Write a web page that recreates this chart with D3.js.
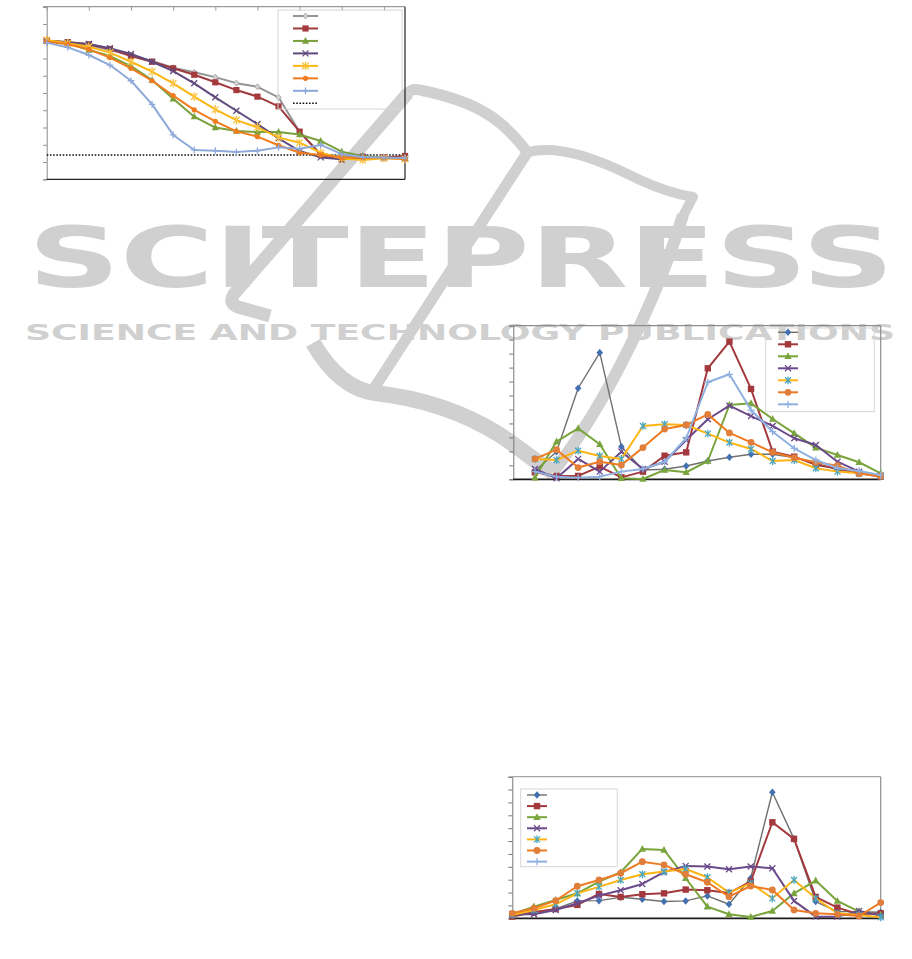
<!DOCTYPE html>
<html><head><meta charset="utf-8">
<script src="https://cdn.jsdelivr.net/npm/d3@7"></script>
<style>html,body{margin:0;padding:0;background:#fff}svg{display:block}</style>
</head><body>
<script>
// ---------------- DATA ----------------
// Chart 1 (top-left): 18 categories, index 0..17
const c1Gray   = [8.03,7.92,7.78,7.49,7.20,6.85,6.47,6.20,5.92,5.57,5.36,4.75,2.74,1.47,1.31,1.31,1.27,1.27];
const c1Red    = [8.03,7.95,7.82,7.55,7.14,6.81,6.43,6.06,5.62,5.17,4.79,4.23,2.76,1.41,1.16,1.31,1.27,1.35];
const c1Green  = [7.99,7.88,7.49,7.14,6.56,5.75,4.67,3.63,3.00,2.80,2.74,2.74,2.60,2.22,1.60,1.35,1.27,1.21];
const c1Purple = [8.03,7.93,7.84,7.59,7.26,6.81,6.27,5.56,4.75,3.97,3.20,2.37,1.64,1.27,1.16,1.27,1.22,1.22];
const c1Yellow = [8.07,7.88,7.68,7.34,6.81,6.24,5.56,4.79,4.05,3.43,3.01,2.43,2.12,1.54,1.21,1.12,1.22,1.18];
const c1Orange = [7.97,7.82,7.53,7.05,6.43,5.71,4.85,4.02,3.36,2.78,2.47,1.97,1.54,1.41,1.27,1.27,1.27,1.18];
const c1Blue   = [7.92,7.64,7.20,6.62,5.71,4.34,2.57,1.70,1.66,1.58,1.66,1.85,1.77,1.99,1.46,1.29,1.27,1.24];
const c1Threshold = 1.41;
const c1YTicks = d3.range(0, 11);
const c1XTicks = [0,2,4,6,8,10,12,14,16];

// Chart 2 (middle-right): categories 1..17 on an axis 0..17
const c2X      = d3.range(1, 18);
const c2Blue   = [0.60,1.98,6.52,9.07,2.34,0.67,0.72,0.95,1.31,1.58,1.79,1.79,1.55,1.15,0.67,0.43,0.26];
const c2Red    = [0.50,0.24,0.24,0.91,0.14,0.55,1.69,1.93,7.95,9.86,6.47,1.98,1.62,1.03,0.79,0.43,0.19];
const c2Green  = [0.12,2.70,3.65,2.51,0.07,0.02,0.67,0.50,1.31,5.32,5.44,4.32,3.29,2.27,1.74,1.22,0.43];
const c2Purple = [0.74,0.07,1.46,0.55,1.98,0.74,1.26,2.82,4.30,5.27,4.53,3.82,2.94,2.46,1.26,0.55,0.26];
const c2Yellow = [1.46,1.38,2.05,1.67,1.46,3.82,3.94,3.89,3.27,2.63,2.17,1.31,1.38,0.79,0.55,0.43,0.24];
const c2Orange = [1.46,2.12,0.84,1.26,1.03,2.27,3.60,3.89,4.65,3.32,2.65,1.93,1.55,1.22,0.98,0.41,0.24];
const c2Light  = [0.55,0.19,0.12,0.19,0.55,0.74,1.26,2.94,6.95,7.52,4.96,3.41,2.22,1.38,0.79,0.60,0.31];
const c2YTicks = d3.range(0, 12);

// Chart 3 (bottom-right): 18 categories, index 0..17
const c3X      = d3.range(0, 18);
const c3Blue   = [0.26,0.47,0.73,1.35,1.37,1.63,1.48,1.30,1.35,1.74,1.09,3.11,9.79,6.17,1.30,0.52,0.52,0.47];
const c3Red    = [0.13,0.47,0.73,1.04,1.89,1.66,1.87,1.94,2.23,2.18,1.97,2.85,7.46,6.17,1.66,0.83,0.31,0.39];
const c3Green  = [0.31,0.91,1.42,1.94,2.85,3.58,5.39,5.31,3.11,0.91,0.31,0.10,0.57,1.94,2.93,1.35,0.52,0.26];
const c3Purple = [0.31,0.31,0.65,1.17,1.76,2.18,2.67,3.58,4.07,4.02,3.81,4.02,3.89,1.35,0.13,0.13,0.57,0.21];
const c3Yellow = [0.26,0.65,1.09,1.94,2.44,2.98,3.42,3.63,3.83,3.19,1.99,2.72,1.55,2.98,1.55,0.39,0.26,0.08];
const c3Orange = [0.39,0.78,1.37,2.49,2.98,3.50,4.40,4.15,3.42,2.80,1.68,2.51,2.20,0.65,0.39,0.31,0.18,1.22];
const c3Light  = [];
const c3YTicks = d3.range(0, 12);

// ---------------- DRAWING ----------------
const W = 912, H = 959;
const svg = d3.select("body").append("svg").attr("width", W).attr("height", H);

// watermark (drawn first, behind charts)
const WM = "#d0d0d0";
const wm = svg.append("g").attr("fill", "none").attr("stroke", WM).attr("stroke-linejoin", "round");
wm.append("path").attr("stroke-width", 13)
  .attr("d", "M270,316 L238,307 Q228,303 234,294 L408,93");
wm.append("path").attr("stroke-width", 11)
  .attr("d", "M408,93 Q412,88 420,90 C450,96 480,106 500,123 C512,133 522,145 528,153");
wm.append("path").attr("stroke-width", 10)
  .attr("d", "M528,152 C560,144 600,160 640,180 C662,190 680,195 693,197 L683,216");
wm.append("path").attr("stroke-width", 12)
  .attr("d", "M683,215 C660,290 610,400 553,472");
wm.append("path").attr("stroke-width", 11)
  .attr("d", "M527,153 L373,390");
wm.append("path").attr("stroke-width", 16).attr("stroke-linecap", "butt")
  .attr("d", "M313,343 C330,372 350,390 375,393 C420,398 460,410 500,435 C525,452 540,465 553,472");
wm.append("text").attr("x", 28).attr("y", 287)
  .attr("font-family", "DejaVu Sans").attr("font-weight", "bold").attr("font-size", 83)
  .attr("fill", WM).attr("stroke", "none")
  .attr("textLength", 866).attr("lengthAdjust", "spacingAndGlyphs").text("SCITEPRESS");
wm.append("text").attr("x", 25).attr("y", 340)
  .attr("font-family", "DejaVu Sans").attr("font-weight", "bold").attr("font-size", 20.5)
  .attr("fill", WM).attr("stroke", "none")
  .attr("textLength", 870).attr("lengthAdjust", "spacingAndGlyphs").text("SCIENCE AND TECHNOLOGY PUBLICATIONS");

function markerPath(type, r) {
  switch (type) {
    case "diamond": return `M0,${-r*1.15}L${r},0L0,${r*1.15}L${-r},0Z`;
    case "square": return `M${-r},${-r}h${2*r}v${2*r}h${-2*r}Z`;
    case "triangle": return `M0,${-r*1.15}L${r*1.05},${r*0.8}L${-r*1.05},${r*0.8}Z`;
    case "circle": return `M${r},0A${r},${r} 0 1,1 ${-r},0A${r},${r} 0 1,1 ${r},0Z`;
    case "x": return `M${-r},${-r}L${r},${r}M${-r},${r}L${r},${-r}`;
    case "star": return `M${-r},${-r}L${r},${r}M${-r},${r}L${r},${-r}M0,${-r*1.3}V${r*1.3}`;
    case "plus": return `M${-r*1.2},0H${r*1.2}M0,${-r*1.2}V${r*1.2}`;
  }
}
const filledTypes = new Set(["diamond","square","triangle","circle"]);

function drawMarker(g, type, r, color, stroke) {
  const p = g.append("path").attr("d", markerPath(type, r));
  if (filledTypes.has(type)) p.attr("fill", color).attr("stroke", stroke || "none").attr("stroke-width", stroke ? 0.8 : 0);
  else p.attr("fill", "none").attr("stroke", color).attr("stroke-width", 1.3);
  return p;
}

function drawChart(cfg) {
  const g = svg.append("g");
  const x = d3.scaleLinear().domain(cfg.xDomain).range([cfg.left, cfg.right]);
  const y = d3.scaleLinear().domain(cfg.yDomain).range([cfg.bottom, cfg.top]);

  const ya = g.append("g").attr("transform", `translate(${cfg.left},0)`)
    .call(d3.axisLeft(y).tickValues(cfg.yTicks).tickSize(cfg.yTickLen).tickFormat(""));
  ya.select(".domain").attr("stroke", cfg.leftColor);
  ya.selectAll(".tick line").attr("stroke", cfg.leftColor);

  g.append("line").attr("x1", cfg.left - (cfg.topOverhang || 0)).attr("x2", cfg.right)
    .attr("y1", cfg.top).attr("y2", cfg.top).attr("stroke", cfg.topColor).attr("stroke-width", 1.2);
  if (cfg.xTicksTop) {
    const xa = g.append("g").attr("transform", `translate(0,${cfg.top})`)
      .call(d3.axisBottom(x).tickValues(cfg.xTicksTop).tickSize(cfg.xTickLen).tickFormat(""));
    xa.select(".domain").remove();
    xa.selectAll(".tick line").attr("stroke", cfg.topColor);
  }
  g.append("line").attr("x1", cfg.right).attr("x2", cfg.right)
    .attr("y1", cfg.top).attr("y2", cfg.bottom).attr("stroke", cfg.rightColor).attr("stroke-width", 1.2);
  g.append("line").attr("x1", cfg.left).attr("x2", cfg.right)
    .attr("y1", cfg.bottom).attr("y2", cfg.bottom).attr("stroke", cfg.bottomColor).attr("stroke-width", cfg.bottomWidth);

  if (cfg.threshold != null) {
    g.append("line").attr("x1", cfg.left).attr("x2", cfg.right)
      .attr("y1", y(cfg.threshold)).attr("y2", y(cfg.threshold))
      .attr("stroke", "#111").attr("stroke-width", 1.6).attr("stroke-dasharray", "1.6,1.6");
  }

  cfg.series.forEach(s => {
    if (!s.values.length) return;
    const pts = s.values.map((v, i) => [x(s.xs[i]), y(v)]);
    g.append("path").attr("d", d3.line()(pts)).attr("fill", "none")
      .attr("stroke", s.line).attr("stroke-width", s.lw || 2).attr("stroke-linejoin", "round");
    pts.forEach(p => {
      drawMarker(g.append("g").attr("transform", `translate(${p[0]},${p[1]})`), s.marker, s.r, s.mcolor, s.mstroke);
    });
  });

  const L = cfg.legend;
  g.append("rect").attr("x", L.x0).attr("y", L.y0).attr("width", L.x1 - L.x0).attr("height", L.y1 - L.y0)
    .attr("fill", "none").attr("stroke", "#d6d6d6").attr("stroke-width", 1);
  const entries = cfg.series.slice();
  if (cfg.threshold != null) entries.push({threshold: true});
  entries.forEach((s, i) => {
    const yy = L.first + i * L.step;
    if (s.threshold) {
      g.append("line").attr("x1", L.lx0).attr("x2", L.lx1).attr("y1", yy).attr("y2", yy)
        .attr("stroke", "#111").attr("stroke-width", 1.6).attr("stroke-dasharray", "1.6,1.6");
      return;
    }
    g.append("line").attr("x1", L.lx0).attr("x2", L.lx1).attr("y1", yy).attr("y2", yy)
      .attr("stroke", s.line).attr("stroke-width", s.lw || 2);
    drawMarker(g.append("g").attr("transform", `translate(${(L.lx0 + L.lx1) / 2},${yy})`), s.marker, s.r, s.mcolor, s.mstroke);
  });
}

const c1X = d3.range(0, 18);
drawChart({
  left: 46.7, right: 405, top: 6.7, bottom: 179.3,
  xDomain: [0, 17], yDomain: [0, 10], yTicks: c1YTicks, yTickLen: 3.5,
  xTicksTop: c1XTicks, xTickLen: 4, topOverhang: 3.5,
  leftColor: "#8a8a8a", topColor: "#9a9a9a", rightColor: "#222", bottomColor: "#222", bottomWidth: 1.3,
  threshold: c1Threshold,
  series: [
    {xs: c1X, values: c1Gray,   line: "#949494", marker: "diamond",  r: 2.6, mcolor: "#d4d4d4", mstroke: "#9a9a9a"},
    {xs: c1X, values: c1Red,    line: "#a0393c", marker: "square",   r: 3.1, mcolor: "#a43a3d"},
    {xs: c1X, values: c1Green,  line: "#7aa03c", marker: "triangle", r: 3.4, mcolor: "#7aa03c"},
    {xs: c1X, values: c1Purple, line: "#604a7d", marker: "x",        r: 3.0, mcolor: "#604a7d"},
    {xs: c1X, values: c1Yellow, line: "#fbb712", marker: "star",     r: 3.3, mcolor: "#fbc443"},
    {xs: c1X, values: c1Orange, line: "#ef7c1f", marker: "circle",   r: 2.6, mcolor: "#ef7c1f"},
    {xs: c1X, values: c1Blue,   line: "#8ea9d9", marker: "plus",     r: 2.8, mcolor: "#8ea9d9"}
  ],
  legend: {x0: 278, y0: 10, x1: 402, y1: 109, lx0: 293, lx1: 318, first: 16, step: 12.47}
});

drawChart({
  left: 513.3, right: 880.7, top: 325.7, bottom: 479.3,
  xDomain: [0, 17], yDomain: [0, 11], yTicks: c2YTicks, yTickLen: 4,
  leftColor: "#777", topColor: "#8c8c8c", rightColor: "#8c8c8c", bottomColor: "#1a1a1a", bottomWidth: 1.8,
  series: [
    {xs: c2X, values: c2Blue,   line: "#707070", lw: 1.4, marker: "diamond",  r: 3.3, mcolor: "#4470b0"},
    {xs: c2X, values: c2Red,    line: "#a3393d", marker: "square",   r: 3.2, mcolor: "#a3393d"},
    {xs: c2X, values: c2Green,  line: "#78a43a", marker: "triangle", r: 3.5, mcolor: "#7aa53e"},
    {xs: c2X, values: c2Purple, line: "#6a4a8a", marker: "x",        r: 3.0, mcolor: "#6a4a8a"},
    {xs: c2X, values: c2Yellow, line: "#fdb515", marker: "star",     r: 3.0, mcolor: "#4aa6c0"},
    {xs: c2X, values: c2Orange, line: "#ef7b22", marker: "circle",   r: 3.4, mcolor: "#e07e3a"},
    {xs: c2X, values: c2Light,  line: "#8eb1e0", marker: "plus",     r: 3.0, mcolor: "#8eb1e0"}
  ],
  legend: {x0: 765.7, y0: 328, x1: 874.3, y1: 411.7, lx0: 778, lx1: 798, first: 332.3, step: 12}
});

drawChart({
  left: 512.3, right: 880.7, top: 776.7, bottom: 918.3,
  xDomain: [0, 17], yDomain: [0, 11], yTicks: c3YTicks, yTickLen: 4,
  leftColor: "#777", topColor: "#a6a6a6", rightColor: "#8c8c8c", bottomColor: "#1a1a1a", bottomWidth: 1.8,
  series: [
    {xs: c3X, values: c3Blue,   line: "#707070", lw: 1.4, marker: "diamond",  r: 3.3, mcolor: "#4470b0"},
    {xs: c3X, values: c3Red,    line: "#a3393d", marker: "square",   r: 3.2, mcolor: "#a3393d"},
    {xs: c3X, values: c3Green,  line: "#78a43a", marker: "triangle", r: 3.5, mcolor: "#7aa53e"},
    {xs: c3X, values: c3Purple, line: "#6a4a8a", marker: "x",        r: 3.0, mcolor: "#6a4a8a"},
    {xs: c3X, values: c3Yellow, line: "#fdb515", marker: "star",     r: 3.0, mcolor: "#4aa6c0"},
    {xs: c3X, values: c3Orange, line: "#ef7b22", marker: "circle",   r: 3.4, mcolor: "#e07e3a"},
    {xs: c3X, values: c3Light,  line: "#8eb1e0", marker: "plus",     r: 3.0, mcolor: "#8eb1e0"}
  ],
  legend: {x0: 520.7, y0: 789, x1: 617.3, y1: 866.7, lx0: 527, lx1: 547, first: 795, step: 11.1}
});
</script>
</body></html>
